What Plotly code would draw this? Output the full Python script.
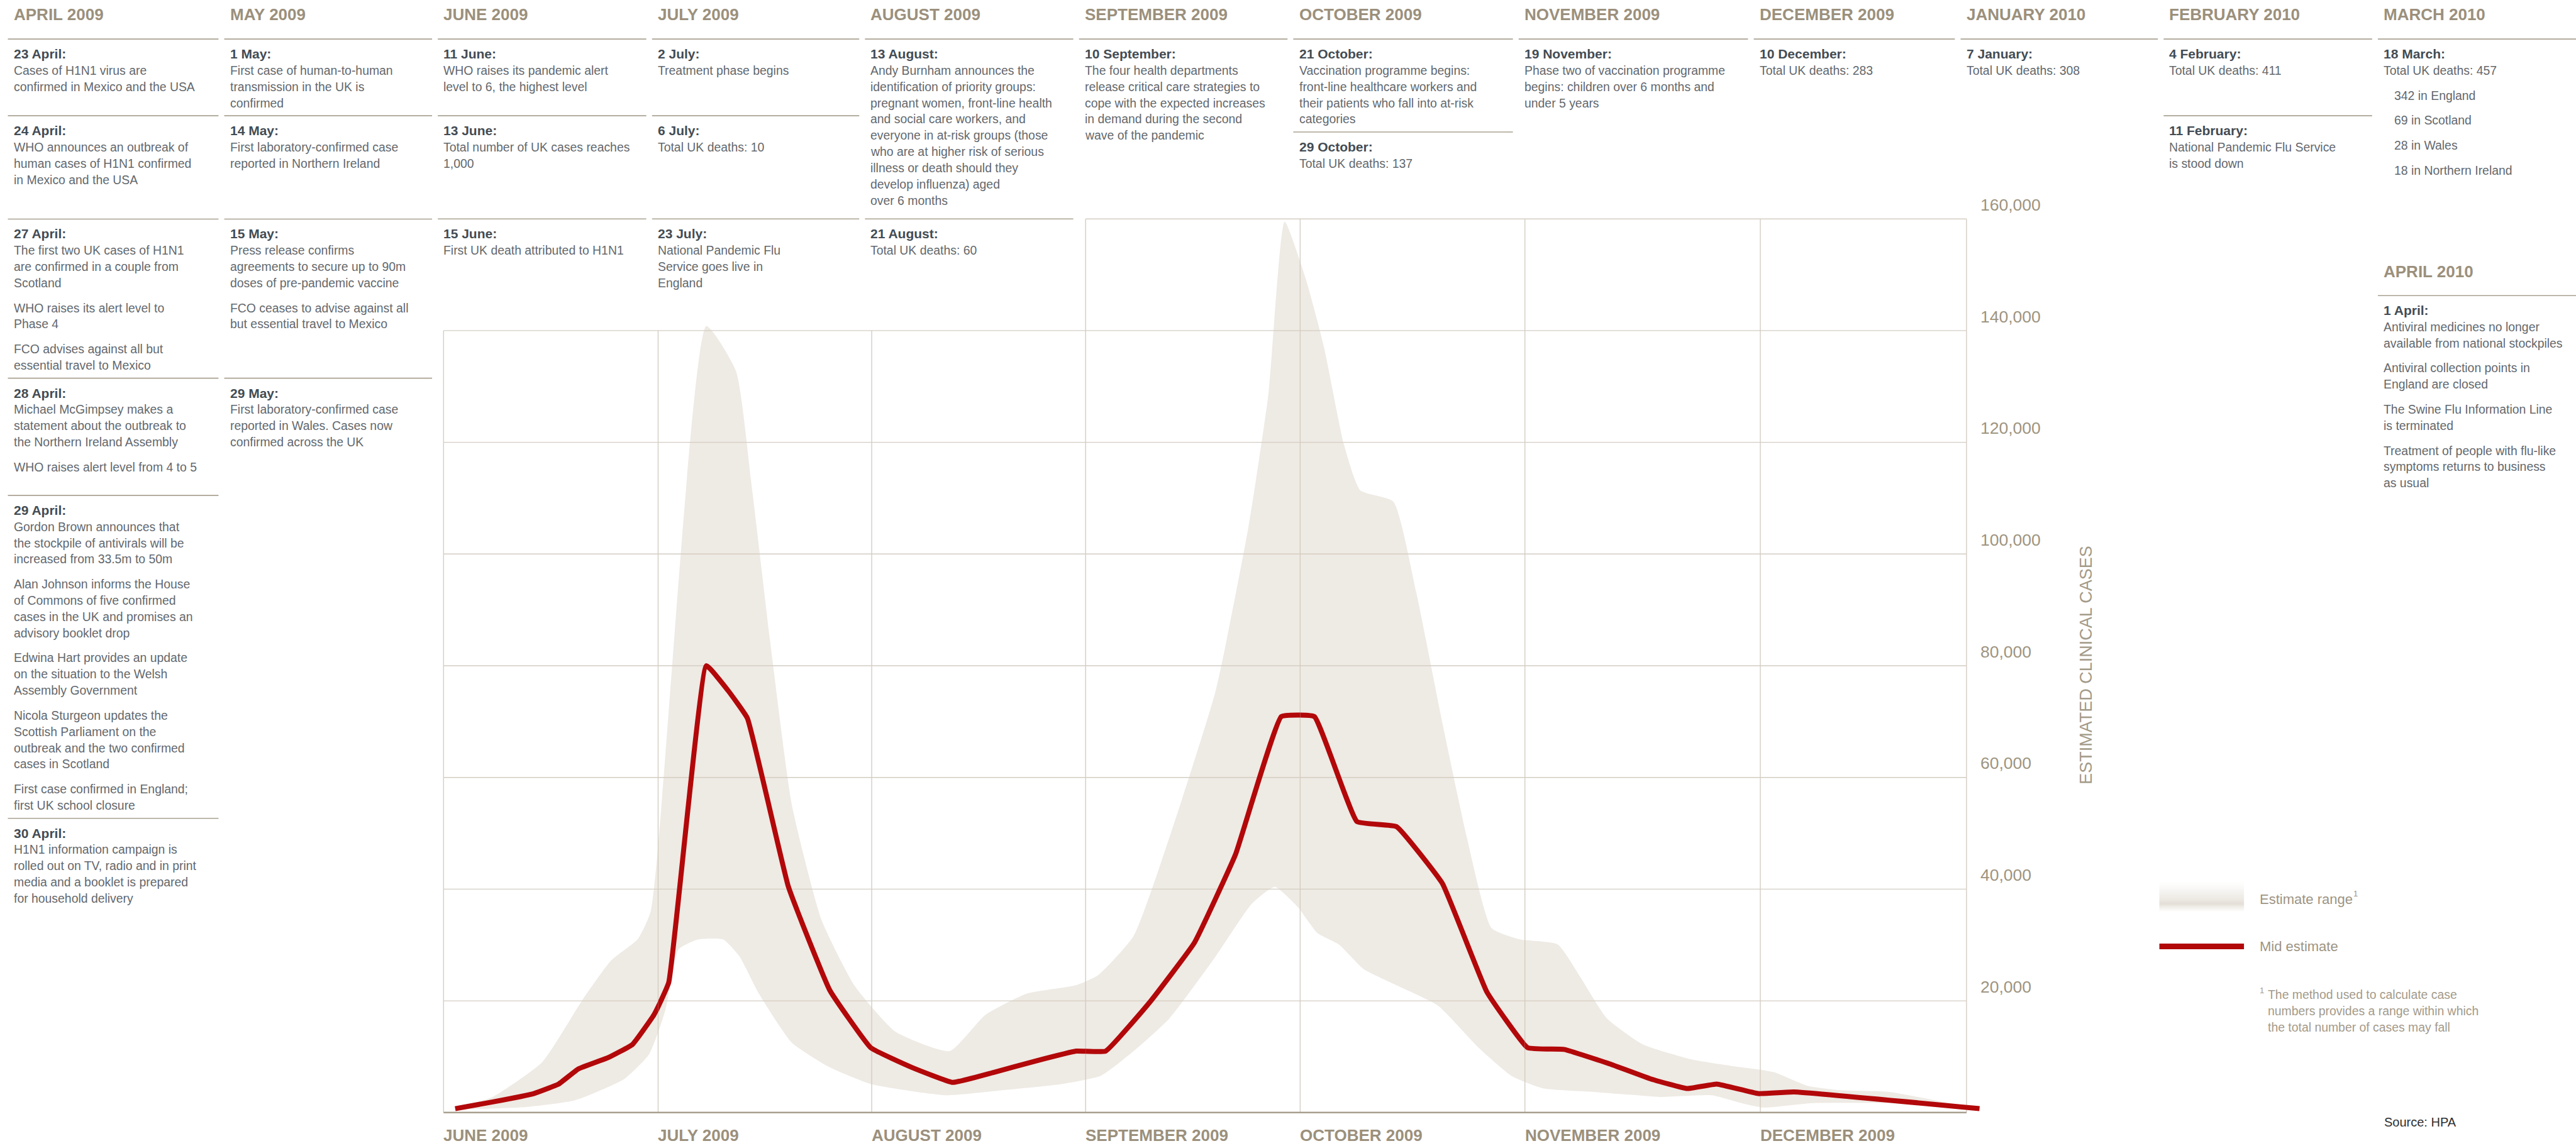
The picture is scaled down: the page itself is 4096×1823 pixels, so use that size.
import plotly.graph_objects as go

# ---------------------------------------------------------------- data
mid_dates = [
    "2009-06-02 15:00", "2009-06-07 21:00", "2009-06-13 15:00", "2009-06-17 02:00",
    "2009-06-19 20:00", "2009-06-23 23:00", "2009-06-27 10:00", "2009-06-30 10:00",
    "2009-07-02 13:00", "2009-07-08 00:00", "2009-07-11 03:00", "2009-07-13 23:00",
    "2009-07-19 22:00", "2009-07-25 22:00", "2009-07-31 21:00", "2009-08-06 19:00",
    "2009-08-12 18:00", "2009-08-18 17:00", "2009-08-24 16:00", "2009-08-30 15:00",
    "2009-09-03 19:00", "2009-09-10 00:00", "2009-09-16 05:00", "2009-09-21 23:00",
    "2009-09-28 09:00", "2009-10-02 23:00", "2009-10-08 20:00", "2009-10-14 07:00",
    "2009-10-20 15:00", "2009-10-26 18:00", "2009-11-01 09:00", "2009-11-06 00:00",
    "2009-11-11 20:00", "2009-11-17 02:00", "2009-11-21 16:00", "2009-11-25 11:00",
    "2009-11-30 17:00", "2009-12-06 01:00", "2010-01-02 23:00",
]
mid_cases = [700, 1900, 3400, 5100, 7800, 9800, 12200, 17500,
             23300, 80000, 75600, 70600, 40400, 21900, 11600, 8100,
             5400, 7200, 9200, 11000, 11000, 19800, 30400, 46200,
             70900, 70900, 52100, 51200, 41000, 21600, 11600, 11300,
             8700, 6000, 4300, 5100, 3400, 3700, 700]

upper_dates = [
    "2009-06-02 15:00", "2009-06-07 21:00", "2009-06-14 19:00", "2009-06-20 13:00",
    "2009-06-24 10:00", "2009-06-28 03:00", "2009-06-29 23:00", "2009-07-08 00:00",
    "2009-07-12 07:00", "2009-07-14 17:00", "2009-07-17 13:00", "2009-07-20 10:00",
    "2009-07-24 17:00", "2009-07-29 11:00", "2009-08-04 10:00", "2009-08-12 07:00",
    "2009-08-17 12:00", "2009-08-23 12:00", "2009-08-30 15:00", "2009-09-02 16:00",
    "2009-09-07 17:00", "2009-09-13 11:00", "2009-09-19 05:00", "2009-09-23 19:00",
    "2009-09-26 13:00", "2009-09-28 20:00", "2009-10-01 20:00", "2009-10-04 07:00",
    "2009-10-07 01:00", "2009-10-09 07:00", "2009-10-13 20:00", "2009-10-17 00:00",
    "2009-10-20 15:00", "2009-10-24 00:00", "2009-10-27 10:00", "2009-10-31 06:00",
    "2009-11-05 04:00", "2009-11-08 02:00", "2009-11-11 10:00", "2009-11-16 01:00",
    "2009-11-22 07:00", "2009-11-28 14:00", "2009-12-03 02:00", "2009-12-08 01:00",
    "2009-12-12 23:00", "2009-12-20 09:00", "2009-12-28 13:00", "2010-01-02 23:00",
]
upper_cases = [700, 2800, 9000, 20400, 27200, 31000, 36000, 140800,
               132800, 110800, 81500, 55000, 34500, 22800, 14500, 11000,
               17500, 21300, 22800, 24500, 31600, 52100, 75600, 105000,
               128400, 159500, 149000, 137000, 119600, 111400, 109400, 93200,
               69700, 49200, 33000, 31000, 30100, 24200, 16900, 12200,
               9500, 8100, 7200, 4800, 4000, 3700, 1900, 700]

lower_dates = [
    "2009-06-02 15:00", "2009-06-12 12:00", "2009-06-19 09:00", "2009-06-26 06:00",
    "2009-06-29 17:00", "2009-07-02 01:00", "2009-07-03 23:00", "2009-07-06 20:00",
    "2009-07-10 10:00", "2009-07-12 19:00", "2009-07-15 15:00", "2009-07-20 10:00",
    "2009-07-25 22:00", "2009-07-31 21:00", "2009-08-07 12:00", "2009-08-12 01:00",
    "2009-08-19 22:00", "2009-08-28 12:00", "2009-09-03 03:00", "2009-09-07 17:00",
    "2009-09-12 18:00", "2009-09-19 05:00", "2009-09-24 06:00", "2009-09-27 11:00",
    "2009-09-30 16:00", "2009-10-03 10:00", "2009-10-06 08:00", "2009-10-09 18:00",
    "2009-10-14 07:00", "2009-10-19 23:00", "2009-10-25 15:00", "2009-10-30 03:00",
    "2009-11-03 11:00", "2009-11-09 18:00", "2009-11-14 09:00", "2009-11-18 03:00",
    "2009-11-24 20:00", "2009-11-28 14:00", "2009-12-01 09:00", "2009-12-08 19:00",
    "2009-12-21 15:00", "2009-12-28 07:00", "2010-01-02 23:00",
]
lower_cases = [700, 1000, 2200, 6000, 10400, 18300, 29200, 31000,
               31000, 28000, 21300, 12500, 8100, 5100, 3700, 3100,
               4000, 5100, 6600, 11000, 16900, 28000, 37400, 40400,
               36800, 32100, 30100, 25700, 22800, 19200, 11600, 6600,
               4300, 3700, 3200, 2800, 3100, 1700, 900, 1700,
               1700, 1300, 700]

month_starts = ["2009-06-01", "2009-07-01", "2009-08-01", "2009-09-01",
                "2009-10-01", "2009-11-01", "2009-12-01", "2010-01-01"]
month_labels = ["JUNE 2009", "JULY 2009", "AUGUST 2009", "SEPTEMBER 2009",
                "OCTOBER 2009", "NOVEMBER 2009", "DECEMBER 2009"]
ytick_vals = [20000, 40000, 60000, 80000, 100000, 120000, 140000, 160000]
ytick_text = ["20,000", "40,000", "60,000", "80,000", "100,000", "120,000",
              "140,000", "160,000"]

# timeline text: (column header, [(date label, [paragraph lines, ...]), ...])
timeline = [
    ("APRIL 2009", [
        ("23 April:", [["Cases of H1N1 virus are", "confirmed in Mexico and the USA"]]),
        ("24 April:", [["WHO announces an outbreak of", "human cases of H1N1 confirmed",
                        "in Mexico and the USA"]]),
        ("27 April:", [["The first two UK cases of H1N1", "are confirmed in a couple from", "Scotland"],
                       ["WHO raises its alert level to", "Phase 4"],
                       ["FCO advises against all but", "essential travel to Mexico"]]),
        ("28 April:", [["Michael McGimpsey makes a", "statement about the outbreak to",
                        "the Northern Ireland Assembly"],
                       ["WHO raises alert level from 4 to 5"]]),
        ("29 April:", [["Gordon Brown announces that", "the stockpile of antivirals will be",
                        "increased from 33.5m to 50m"],
                       ["Alan Johnson informs the House", "of Commons of five confirmed",
                        "cases in the UK and promises an", "advisory booklet drop"],
                       ["Edwina Hart provides an update", "on the situation to the Welsh",
                        "Assembly Government"],
                       ["Nicola Sturgeon updates the", "Scottish Parliament on the",
                        "outbreak and the two confirmed", "cases in Scotland"],
                       ["First case confirmed in England;", "first UK school closure"]]),
        ("30 April:", [["H1N1 information campaign is", "rolled out on TV, radio and in print",
                        "media and a booklet is prepared", "for household delivery"]]),
    ]),
    ("MAY 2009", [
        ("1 May:", [["First case of human-to-human", "transmission in the UK is", "confirmed"]]),
        ("14 May:", [["First laboratory-confirmed case", "reported in Northern Ireland"]]),
        ("15 May:", [["Press release confirms", "agreements to secure up to 90m",
                      "doses of pre-pandemic vaccine"],
                     ["FCO ceases to advise against all", "but essential travel to Mexico"]]),
        ("29 May:", [["First laboratory-confirmed case", "reported in Wales. Cases now",
                      "confirmed across the UK"]]),
    ]),
    ("JUNE 2009", [
        ("11 June:", [["WHO raises its pandemic alert", "level to 6, the highest level"]]),
        ("13 June:", [["Total number of UK cases reaches", "1,000"]]),
        ("15 June:", [["First UK death attributed to H1N1"]]),
    ]),
    ("JULY 2009", [
        ("2 July:", [["Treatment phase begins"]]),
        ("6 July:", [["Total UK deaths: 10"]]),
        ("23 July:", [["National Pandemic Flu", "Service goes live in", "England"]]),
    ]),
    ("AUGUST 2009", [
        ("13 August:", [["Andy Burnham announces the", "identification of priority groups:",
                         "pregnant women, front-line health", "and social care workers, and",
                         "everyone in at-risk groups (those", "who are at higher risk of serious",
                         "illness or death should they", "develop influenza) aged",
                         "over 6 months"]]),
        ("21 August:", [["Total UK deaths: 60"]]),
    ]),
    ("SEPTEMBER 2009", [
        ("10 September:", [["The four health departments", "release critical care strategies to",
                            "cope with the expected increases", "in demand during the second",
                            "wave of the pandemic"]]),
    ]),
    ("OCTOBER 2009", [
        ("21 October:", [["Vaccination programme begins:", "front-line healthcare workers and",
                          "their patients who fall into at-risk", "categories"]]),
        ("29 October:", [["Total UK deaths: 137"]]),
    ]),
    ("NOVEMBER 2009", [
        ("19 November:", [["Phase two of vaccination programme",
                           "begins: children over 6 months and", "under 5 years"]]),
    ]),
    ("DECEMBER 2009", [("10 December:", [["Total UK deaths: 283"]])]),
    ("JANUARY 2010", [("7 January:", [["Total UK deaths: 308"]])]),
    ("FEBRUARY 2010", [
        ("4 February:", [["Total UK deaths: 411"]]),
        ("11 February:", [["National Pandemic Flu Service", "is stood down"]]),
    ]),
    ("MARCH 2010", [
        ("18 March:", [["Total UK deaths: 457"], ["\t342 in England"], ["\t69 in Scotland"],
                       ["\t28 in Wales"], ["\t18 in Northern Ireland"]]),
    ]),
]
april_2010 = ("APRIL 2010", [
    ("1 April:", [["Antiviral medicines no longer", "available from national stockpiles"],
                  ["Antiviral collection points in", "England are closed"],
                  ["The Swine Flu Information Line", "is terminated"],
                  ["Treatment of people with flu-like", "symptoms returns to business",
                   "as usual"]]),
])

# ---------------------------------------------------------------- layout geometry
W, H = 4096, 1823
K = W / 1568.0            # preview pixel -> output pixel


def PX(v):
    return v * K / W


def PY(v):
    return 1 - v * K / H


FONT = "Liberation Sans, Arial, Helvetica, sans-serif"
TAN = "#9b907c"
LABEL = "#434c54"
BODY = "#63686d"
RULE = "#a9a192"
GRID = "#d3cdc3"
RED = "#b2080a"
BODY_SIZE = 19.4

col_x = [8.3, 140, 270, 400.4, 530, 660.3, 790.7, 927.9, 1071, 1196.9, 1320.5, 1450.9]
col_rules = [[23.8, 70.5, 133.4, 230.3, 301.7, 498.3], [23.8, 70.5, 133.4, 230.3],
             [23.8, 70.5, 133.3], [23.8, 70.5, 133.3], [23.8, 133.3], [23.8],
             [23.8, 80.4], [23.8], [23.8], [23.8], [23.8, 70.5], [23.8]]
# left edge of each month panel of the chart (the chart's month columns are not equal)
month_edges = [270, 400.6, 530.6, 660.8, 791.4, 928.2, 1071.5, 1197]

annotations = []
shapes = []


def txt(x, y, s, size, color, weight="normal", xanchor="left", **kw):
    annotations.append(dict(
        x=PX(x), y=PY(y), xref="paper", yref="paper", text=s, showarrow=False,
        xanchor=xanchor, yanchor="middle", borderpad=0, borderwidth=0,
        font=dict(family=FONT, size=size, color=color, weight=weight), **kw))


def rule(x0, x1, y, color=RULE, width=1.6):
    shapes.append(dict(type="line", xref="paper", yref="paper", x0=PX(x0), x1=PX(x1),
                       y0=PY(y), y1=PY(y), line=dict(color=color, width=width)))


LINE_STEP, PARA_STEP = 9.9, 15.2


def draw_blocks(x, rules, blocks):
    for ry, (label, paras) in zip(rules, blocks):
        y = ry + 9.0
        txt(x, y, label, 21, LABEL, weight="bold")
        y += 10.0
        for pi, para in enumerate(paras):
            if pi > 0:
                y += PARA_STEP - LINE_STEP
            for line in para:
                indent = 6.5 if line.startswith("\t") else 0
                txt(x + indent, y, line.strip("\t"), BODY_SIZE, BODY)
                y += LINE_STEP


for i, (header, blocks) in enumerate(timeline):
    x = col_x[i]
    x_end = col_x[i + 1] - 7 if i + 1 < len(col_x) else 1568
    txt(x, 8.8, header, 26, TAN, weight="bold")
    for ry in col_rules[i]:
        rule(x - 3.5, x_end, ry)
    draw_blocks(x, col_rules[i], blocks)

txt(col_x[-1], 165.5, april_2010[0], 26, TAN, weight="bold")
rule(col_x[-1] - 3.5, 1568, 180.0)
draw_blocks(col_x[-1], [180.0], april_2010[1])

# ---------------------------------------------------------------- chart
# one date x-axis per month panel, all sharing the same y-axis
fig = go.Figure()
xaxes = {}
for i in range(7):
    name = "x" if i == 0 else "x%d" % (i + 1)
    lo, hi = month_edges[i], month_edges[i + 1]
    r0, r1 = month_starts[i], month_starts[i + 1]
    if i == 6:   # last panel runs a few days past the frame so the line end shows
        hi = month_edges[7] + 3 * (month_edges[7] - month_edges[6]) / 31.0
        r1 = "2010-01-04"
    xaxes["xaxis" if i == 0 else "xaxis%d" % (i + 1)] = dict(
        type="date", range=[r0, r1], domain=[PX(lo), PX(hi)], anchor="y",
        visible=False, showgrid=False, zeroline=False, fixedrange=True)
    fig.add_trace(go.Scatter(
        x=upper_dates + lower_dates[::-1], y=upper_cases + lower_cases[::-1],
        xaxis=name, yaxis="y", mode="lines", fill="toself",
        fillcolor="rgba(214,205,190,0.42)",
        line=dict(width=0, shape="spline", smoothing=0.5),
        hoverinfo="skip", showlegend=False))
    fig.add_trace(go.Scatter(
        x=mid_dates, y=mid_cases, xaxis=name, yaxis="y", mode="lines",
        line=dict(color=RED, width=8, shape="spline", smoothing=0.3),
        hoverinfo="skip", showlegend=False))

# grid: horizontal lines (160,000 only over the Sep-Dec part), vertical month lines
for v in ytick_vals:
    x0 = month_edges[3] if v == 160000 else month_edges[0]
    shapes.append(dict(type="line", xref="paper", yref="y", x0=PX(x0), x1=PX(month_edges[-1]),
                       y0=v, y1=v, layer="below", line=dict(color=GRID, width=1.4)))
for j, e in enumerate(month_edges):
    top = 140000 if j < 3 else 160000
    shapes.append(dict(type="line", xref="paper", yref="y", x0=PX(e), x1=PX(e), y0=0, y1=top,
                       layer="below", line=dict(color=GRID, width=1.4)))
shapes.append(dict(type="line", xref="paper", yref="y", x0=PX(month_edges[0]),
                   x1=PX(month_edges[-1]), y0=0, y1=0, layer="below",
                   line=dict(color="#a79e8f", width=2.5)))

for i, (m, lab) in enumerate(zip(month_starts, month_labels)):
    annotations.append(dict(x=m, y=PY(691.5), xref="x" if i == 0 else "x%d" % (i + 1),
                            yref="paper", text=lab, showarrow=False, xanchor="left",
                            yanchor="middle", borderpad=0, borderwidth=0,
                            font=dict(family=FONT, size=26, color=TAN, weight="bold")))

for v, t in zip(ytick_vals, ytick_text):
    annotations.append(dict(x=PX(1205.5), y=v, xref="paper", yref="y", text=t,
                            showarrow=False, xanchor="left", yanchor="middle", yshift=8.5 * K,
                            borderpad=0, borderwidth=0,
                            font=dict(family=FONT, size=26.5, color="#9e9480")))

txt(1269.7, 405, "ESTIMATED CLINICAL CASES", 27, "#a39a88", xanchor="center", textangle=-90)

# legend
sw_x0, sw_x1, sw_y0, sw_y1 = 1314.4, 1365.9, 536.4, 555.7
n = 24
for k in range(n):
    f = (k + 0.5) / n
    a = f / 0.73 if f < 0.73 else (1 - f) / 0.27
    a = max(0.0, min(1.0, a)) ** 1.3
    ya = sw_y0 + (sw_y1 - sw_y0) * k / n
    yb = sw_y0 + (sw_y1 - sw_y0) * (k + 1) / n
    shapes.append(dict(type="rect", xref="paper", yref="paper", x0=PX(sw_x0), x1=PX(sw_x1),
                       y0=PY(yb), y1=PY(ya), line=dict(width=0),
                       fillcolor="rgba(210,202,188,%.3f)" % (0.6 * a)))
shapes.append(dict(type="rect", xref="paper", yref="paper", x0=PX(sw_x0), x1=PX(sw_x1),
                   y0=PY(578.0), y1=PY(574.6), line=dict(width=0), fillcolor=RED))
LEG = "#9d9483"
NOTE = "#a39a8a"
txt(1375.6, 547.6, "Estimate range", 22, LEG)
txt(1432.6, 544.0, "1", 13, LEG)
txt(1375.6, 576.5, "Mid estimate", 22, LEG)
txt(1375.6, 603.0, "1", 13, NOTE)
txt(1380.3, 605.5, "The method used to calculate case", BODY_SIZE, NOTE)
txt(1380.3, 615.5, "numbers provides a range within which", BODY_SIZE, NOTE)
txt(1380.3, 625.5, "the total number of cases may fall", BODY_SIZE, NOTE)
txt(1451.2, 683.4, "Source: HPA", 20, "#2e2e2e")

# y range padded slightly below zero so the thick line is not clipped
y_lo, y_hi = -2000, 162000
pp = (677.5 - 133.3) / 160000.0
y_dom = [PY(677.5 - y_lo * pp), PY(677.5 - y_hi * pp)]

fig.update_layout(
    width=W, height=H, autosize=False,
    margin=dict(l=0, r=0, t=0, b=0, pad=0),
    paper_bgcolor="white", plot_bgcolor="rgba(0,0,0,0)",
    yaxis=dict(range=[y_lo, y_hi], domain=y_dom, anchor="x", visible=False,
               showgrid=False, zeroline=False, fixedrange=True),
    shapes=shapes, annotations=annotations, showlegend=False,
    font=dict(family=FONT),
    **xaxes,
)

# the page's default 8px body margin would shift the whole figure; remove it
fig.write_html("out.html", config={"displayModeBar": False},
               post_script="document.body.style.margin='0';document.body.style.overflow='hidden';")
